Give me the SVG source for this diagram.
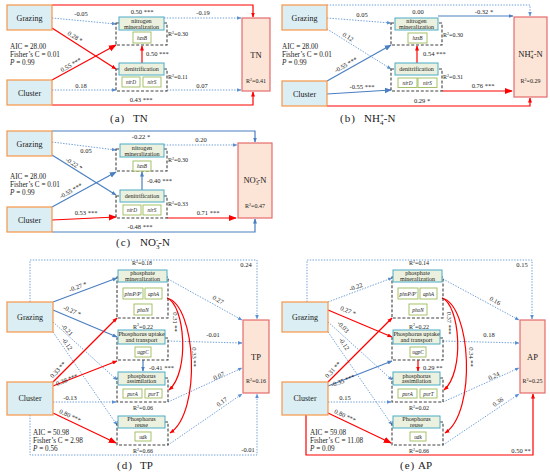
<svg xmlns="http://www.w3.org/2000/svg" width="550" height="476" viewBox="0 0 550 476">
<defs>
<style>
text{font-family:"Liberation Serif","Times New Roman",serif;fill:#1a1a1a}
.drv{fill:#dbeef4;stroke:#f79646;stroke-width:1.2}
.rsp{fill:#fce4d6;stroke:#e46c6c;stroke-width:1.2}
.hdr{fill:#ebf1de;stroke:#4bacc6;stroke-width:1}
.gen{fill:#fff;stroke:#9bbb59;stroke-width:0.9}
.grp{fill:none;stroke:#404040;stroke-width:1.1;stroke-dasharray:3 1.8}
.nm{font-size:8px;text-anchor:middle}
.rn{font-size:8.5px;text-anchor:middle}
.ht{font-size:6.1px;text-anchor:middle}
.gt{font-size:5.3px;font-style:italic;text-anchor:middle}
.r2{font-size:6px}
.lb{font-size:6.5px;text-anchor:middle}
.ls{font-size:6.5px}
.st{font-size:7.2px}
.cap{font-size:11px}
.red{fill:none;stroke:#ff0000;stroke-width:1.2}
.blu{fill:none;stroke:#4a7fc1;stroke-width:1.2}
.dot{fill:none;stroke:#6f9fd8;stroke-width:1;stroke-dasharray:1.4 1.4}
</style>
<marker id="mr" viewBox="0 0 10 10" refX="9" refY="5" markerWidth="5" markerHeight="5" markerUnits="userSpaceOnUse" orient="auto"><path d="M0,1 L10,5 L0,9z" fill="#ff0000"/></marker>
<marker id="mrL" viewBox="0 0 10 10" refX="9" refY="5" markerWidth="8" markerHeight="8" markerUnits="userSpaceOnUse" orient="auto"><path d="M0,1 L10,5 L0,9z" fill="#ff0000"/></marker>
<marker id="mb" viewBox="0 0 10 10" refX="9" refY="5" markerWidth="5" markerHeight="5" markerUnits="userSpaceOnUse" orient="auto"><path d="M0,1 L10,5 L0,9z" fill="#4a7fc1"/></marker>
<marker id="mbL" viewBox="0 0 10 10" refX="9" refY="5" markerWidth="7" markerHeight="7" markerUnits="userSpaceOnUse" orient="auto"><path d="M0,1 L10,5 L0,9z" fill="#4a7fc1"/></marker>
<marker id="md" viewBox="0 0 10 10" refX="9" refY="5" markerWidth="4.5" markerHeight="4.5" markerUnits="userSpaceOnUse" orient="auto"><path d="M0,1 L10,5 L0,9z" fill="#5b8fd4"/></marker>
</defs>
<rect width="550" height="476" fill="#fff"/>

<!-- ================= (a) TN ================= -->
<g id="a-connectors">
<path class="red" stroke-width="1.6" d="M52,5 H253 V17" marker-end="url(#mr)"/>
<path class="dot" d="M52,18 L116,24" marker-end="url(#md)"/>
<path class="red" d="M52,28 L116,69" marker-end="url(#mr)"/>
<path class="red" stroke-width="2.6" d="M52,80 L116,45" marker-end="url(#mrL)"/>
<path class="dot" d="M52,90 L116,90" marker-end="url(#md)"/>
<path class="red" stroke-width="1.6" d="M52,105 H253 V92" marker-end="url(#mr)"/>
<path class="red" stroke-width="1.6" d="M142,63 V46" marker-end="url(#mr)"/>
<path class="dot" d="M164,18 H241" marker-end="url(#md)"/>
<path class="dot" d="M167,90 H241" marker-end="url(#md)"/>
<text class="lb" x="142" y="13.5">0.50 ***</text>
<text class="lb" x="81" y="16">-0.05</text>
<text class="lb" x="75" y="39" transform="rotate(32 75 37)">0.28 *</text>
<text class="lb" x="71" y="67" transform="rotate(-29 71 65)">0.55 ***</text>
<text class="lb" x="81" y="88">0.18</text>
<text class="lb" x="141" y="102">0.43 ***</text>
<text class="ls" x="146" y="56">0.50 ***</text>
<text class="lb" x="203" y="14.5">-0.19</text>
<text class="lb" x="202" y="88">0.07</text>
</g>
<g id="a-grazing"><rect class="drv" x="7" y="5" width="45" height="25"/><text class="nm" x="29.5" y="20.5">Grazing</text></g>
<g id="a-cluster"><rect class="drv" x="7" y="80" width="45" height="25"/><text class="nm" x="29.5" y="95.5">Cluster</text></g>
<g id="a-nmin"><rect class="grp" x="116" y="23" width="51" height="22"/><rect class="hdr" x="119" y="17" width="45" height="13"/><text class="ht" x="141.5" y="22.5">nitrogen</text><text class="ht" x="141.5" y="28.5">mineralization</text><rect class="gen" x="133" y="32" width="18" height="11"/><text class="gt" x="142" y="39.5">hzsB</text><text class="r2" x="168" y="36">R<tspan font-size="4" dy="-2.3">2</tspan><tspan dy="2.3">=0.30</tspan></text></g>
<g id="a-denit"><rect class="grp" x="116" y="69" width="51" height="22"/><rect class="hdr" x="119" y="63" width="45" height="12"/><text class="ht" x="141.5" y="71">denitrification</text><rect class="gen" x="122" y="77" width="18" height="10"/><text class="gt" x="131" y="84">nirD</text><rect class="gen" x="143" y="77" width="18" height="10"/><text class="gt" x="152" y="84">nirS</text><text class="r2" x="168" y="79">R<tspan font-size="4" dy="-2.3">2</tspan><tspan dy="2.3">=0.11</tspan></text></g>
<g id="a-tn"><rect class="rsp" x="242" y="18" width="28" height="73"/><text class="rn" x="256" y="58">TN</text><text class="r2" x="256" y="83" text-anchor="middle">R<tspan font-size="4" dy="-2.3">2</tspan><tspan dy="2.3">=0.41</tspan></text></g>
<g id="a-stats"><text class="st" x="10" y="48.5">AIC = 28.00</text><text class="st" x="10" y="56.8">Fisher’s  C = 0.01</text><text class="st" x="10" y="65"><tspan font-style="italic">P</tspan> = 0.99</text></g>
<text class="cap" x="110" y="122" letter-spacing="1">(a)</text><text class="cap" x="133" y="122">TN</text>

<!-- ================= (b) NH4 ================= -->
<g id="b-connectors">
<path class="dot" d="M327,5 H530 V16" marker-end="url(#md)"/>
<path class="blu" stroke-width="1.6" d="M438,16 H513" marker-end="url(#mb)"/>
<path class="dot" d="M327,18 L391,23" marker-end="url(#md)"/>
<path class="dot" d="M327,29 L391,69" marker-end="url(#md)"/>
<path class="blu" stroke-width="2.4" d="M327,81 L391,45" marker-end="url(#mbL)"/>
<path class="blu" stroke-width="2.4" d="M327,94 L391,90" marker-end="url(#mbL)"/>
<path class="red" d="M327,106 H530 V98" marker-end="url(#mr)"/>
<path class="red" stroke-width="1.8" d="M417,63 V46" marker-end="url(#mr)"/>
<path class="red" stroke-width="3" d="M442,91 H512" marker-end="url(#mrL)"/>
<text class="lb" x="418" y="14">0.00</text>
<text class="lb" x="484" y="14">-0.32 *</text>
<text class="lb" x="362" y="17">0.05</text>
<text class="lb" x="348" y="39" transform="rotate(32 348 37)">0.12</text>
<text class="lb" x="346" y="67" transform="rotate(-29 346 65)">-0.55 ***</text>
<text class="lb" x="362" y="88.5">-0.55 ***</text>
<text class="lb" x="422" y="102.5">0.29 *</text>
<text class="ls" x="423" y="56">0.54 ***</text>
<text class="lb" x="483" y="88">0.76 ***</text>
</g>
<g id="b-grazing"><rect class="drv" x="282" y="5" width="45" height="25"/><text class="nm" x="304.5" y="20.5">Grazing</text></g>
<g id="b-cluster"><rect class="drv" x="282" y="81" width="45" height="25"/><text class="nm" x="304.5" y="96.5">Cluster</text></g>
<g id="b-nmin"><rect class="grp" x="391" y="23" width="51" height="22"/><rect class="hdr" x="395" y="18" width="43" height="12"/><text class="ht" x="416.5" y="23">nitrogen</text><text class="ht" x="416.5" y="28.8">mineralization</text><rect class="gen" x="408" y="33" width="19" height="10"/><text class="gt" x="417.5" y="40">hzsB</text><text class="r2" x="443" y="37">R<tspan font-size="4" dy="-2.3">2</tspan><tspan dy="2.3">=0.30</tspan></text></g>
<g id="b-denit"><rect class="grp" x="391" y="69" width="51" height="22"/><rect class="hdr" x="395" y="63" width="43" height="12"/><text class="ht" x="416.5" y="71">denitrification</text><rect class="gen" x="398" y="78" width="19" height="9.5"/><text class="gt" x="407.5" y="84.8">nirD</text><rect class="gen" x="418" y="78" width="19" height="9.5"/><text class="gt" x="427.5" y="84.8">nirS</text><text class="r2" x="443" y="79">R<tspan font-size="4" dy="-2.3">2</tspan><tspan dy="2.3">=0.31</tspan></text></g>
<g id="b-nh4"><rect class="rsp" x="514" y="17" width="33" height="80"/><text class="rn" x="530.5" y="57">NH<tspan font-size="5.5" dy="2">4</tspan><tspan font-size="5.5" dx="-2.8" dy="-5.5">+</tspan><tspan dy="3.5">-N</tspan></text><text class="r2" x="530.5" y="83" text-anchor="middle">R<tspan font-size="4" dy="-2.3">2</tspan><tspan dy="2.3">=0.29</tspan></text></g>
<g id="b-stats"><text class="st" x="282" y="48.5">AIC = 28.00</text><text class="st" x="282" y="56.8">Fisher’s  C = 0.01</text><text class="st" x="282" y="65"><tspan font-style="italic">P</tspan> = 0.99</text></g>
<text class="cap" x="340" y="122" letter-spacing="1">(b)</text><text class="cap" x="364" y="122">NH<tspan font-size="7" dy="2.5">4</tspan><tspan font-size="7" dx="-3.5" dy="-7">+</tspan><tspan dy="4.5">-N</tspan></text>

<!-- ================= (c) NO3 ================= -->
<g id="c-connectors">
<path class="blu" d="M52,131 H255 V142" marker-end="url(#mb)"/>
<path class="dot" d="M52,142 L116,150" marker-end="url(#md)"/>
<path class="dot" d="M164,145 H237" marker-end="url(#md)"/>
<path class="blu" d="M52,155 L116,195" marker-end="url(#mb)"/>
<path class="blu" stroke-width="2.4" d="M52,207 L116,172" marker-end="url(#mbL)"/>
<path class="red" stroke-width="2.6" d="M52,220 L116,217" marker-end="url(#mrL)"/>
<path class="blu" stroke-width="1.6" d="M52,232 H255 V219" marker-end="url(#mb)"/>
<path class="blu" stroke-width="1.6" d="M142,190 V172" marker-end="url(#mb)"/>
<path class="red" stroke-width="3" d="M167,218 H236" marker-end="url(#mrL)"/>
<text class="lb" x="141" y="138.5">-0.22 *</text>
<text class="lb" x="86" y="153">0.05</text>
<text class="lb" x="201" y="142">0.20</text>
<text class="lb" x="74" y="166" transform="rotate(32 74 164)">-0.22 *</text>
<text class="lb" x="71" y="193" transform="rotate(-29 71 191)">-0.55 ***</text>
<text class="lb" x="86" y="215">0.53 ***</text>
<text class="lb" x="140" y="229">-0.48 ***</text>
<text class="ls" x="147" y="183">-0.40 ***</text>
<text class="lb" x="208" y="215">0.71 ***</text>
</g>
<g id="c-grazing"><rect class="drv" x="7" y="131" width="45" height="25"/><text class="nm" x="29.5" y="146.5">Grazing</text></g>
<g id="c-cluster"><rect class="drv" x="7" y="207" width="45" height="25"/><text class="nm" x="29.5" y="222.5">Cluster</text></g>
<g id="c-nmin"><rect class="grp" x="116" y="149" width="51" height="22"/><rect class="hdr" x="120" y="144" width="44" height="13"/><text class="ht" x="142" y="149.5">nitrogen</text><text class="ht" x="142" y="155.5">mineralization</text><rect class="gen" x="133" y="161" width="18" height="10"/><text class="gt" x="142" y="168">hzsB</text><text class="r2" x="168" y="162">R<tspan font-size="4" dy="-2.3">2</tspan><tspan dy="2.3">=0.30</tspan></text></g>
<g id="c-denit"><rect class="grp" x="116" y="196" width="51" height="22"/><rect class="hdr" x="120" y="190" width="44" height="12"/><text class="ht" x="142" y="198">denitrification</text><rect class="gen" x="123" y="205" width="18" height="10"/><text class="gt" x="132" y="212">nirD</text><rect class="gen" x="143" y="205" width="18" height="10"/><text class="gt" x="152" y="212">nirS</text><text class="r2" x="168" y="206">R<tspan font-size="4" dy="-2.3">2</tspan><tspan dy="2.3">=0.33</tspan></text></g>
<g id="c-no3"><rect class="rsp" x="238" y="143" width="34" height="75"/><text class="rn" x="255" y="183">NO<tspan font-size="5.5" dy="2">3</tspan><tspan font-size="5.5" dx="-2.8" dy="-5.5">-</tspan><tspan dy="3.5">-N</tspan></text><text class="r2" x="255" y="208" text-anchor="middle">R<tspan font-size="4" dy="-2.3">2</tspan><tspan dy="2.3">=0.47</tspan></text></g>
<g id="c-stats"><text class="st" x="10" y="179">AIC = 28.00</text><text class="st" x="10" y="186.8">Fisher’s  C = 0.01</text><text class="st" x="10" y="194.5"><tspan font-style="italic">P</tspan> = 0.99</text></g>
<text class="cap" x="116" y="246" letter-spacing="1">(c)</text><text class="cap" x="140" y="246">NO<tspan font-size="7" dy="2.5">3</tspan><tspan font-size="7" dx="-3.5" dy="-7">-</tspan><tspan dy="4.5">-N</tspan></text>

<!-- ================= (d) TP ================= -->
<g id="d-connectors">
<path class="dot" d="M30,302 V260 H257 V319" marker-end="url(#md)"/>
<path class="dot" d="M30,415 V455 H257 V394" marker-end="url(#md)"/>
<path class="blu" d="M53,302 L117,278" marker-end="url(#mb)"/>
<path class="blu" d="M53,310 L117,337" marker-end="url(#mb)"/>
<path class="dot" d="M53,322 L117,380" marker-end="url(#md)"/>
<path class="dot" d="M53,332 L117,425" marker-end="url(#md)"/>
<path class="red" d="M53,382 L117,318" marker-end="url(#mr)"/>
<path class="red" stroke-width="1.6" d="M53,386 L117,361" marker-end="url(#mr)"/>
<path class="dot" d="M53,402 L116,402" marker-end="url(#md)"/>
<path class="red" stroke-width="2.8" d="M53,413 L116,443" marker-end="url(#mrL)"/>
<path class="blu" stroke-width="1.6" d="M143,360 V371" marker-end="url(#mb)"/>
<path class="dot" d="M168,279 L242,320" marker-end="url(#md)"/>
<path class="dot" d="M168,341 L242,343" marker-end="url(#md)"/>
<path class="dot" d="M168,402 L242,368" marker-end="url(#md)"/>
<path class="dot" d="M168,445 L242,394" marker-end="url(#md)"/>
<path class="red" stroke-width="1.3" d="M167,298 C185,305 190,372 169,390" marker-end="url(#mr)"/>
<path class="red" stroke-width="1.3" d="M167,298 C196,305 202,412 170,433" marker-end="url(#mr)"/>
<text class="lb" x="246" y="267">0.24</text>
<text class="lb" x="248" y="452">-0.01</text>
<text class="lb" x="78" y="289" transform="rotate(-20 78 287)">-0.27 *</text>
<text class="lb" x="72" y="313" transform="rotate(23 72 311)">-0.27 *</text>
<text class="lb" x="67" y="332" transform="rotate(45 67 330)">-0.21</text>
<text class="lb" x="67" y="346" transform="rotate(57 67 344)">-0.12</text>
<text class="lb" x="58" y="372" transform="rotate(-47 58 370)">0.33 **</text>
<text class="lb" x="67" y="382" transform="rotate(-21 67 380)">0.38 ***</text>
<text class="lb" x="70" y="400">-0.13</text>
<text class="lb" x="70" y="418" transform="rotate(25 70 416)">0.80 ***</text>
<text class="ls" x="149" y="370">-0.41 ***</text>
<text class="lb" x="218" y="302" transform="rotate(29 218 300)">0.27</text>
<text class="lb" x="213" y="337">-0.01</text>
<text class="lb" x="219" y="378" transform="rotate(-24 219 376)">0.07</text>
<text class="lb" x="222" y="404" transform="rotate(-35 222 402)">0.17</text>
<text class="lb" x="175" y="324" transform="rotate(90 175 322)">0.31 **</text>
<text class="lb" x="194" y="359" transform="rotate(90 194 357)">0.33 **</text>
</g>
<g id="d-grazing"><rect class="drv" x="7" y="302" width="46" height="30"/><text class="nm" x="30" y="319.5">Grazing</text></g>
<g id="d-cluster"><rect class="drv" x="7" y="382" width="46" height="33"/><text class="nm" x="30" y="401">Cluster</text></g>
<g id="d-pmin"><rect class="grp" x="117" y="277" width="51" height="41"/><rect class="hdr" x="118" y="270" width="49" height="12"/><text class="ht" x="142.5" y="275">phosphate</text><text class="ht" x="142.5" y="280.6">mineralization</text><rect class="gen" x="123" y="288" width="20" height="11"/><text class="gt" x="133" y="295.5">phnP/P'</text><rect class="gen" x="145" y="288" width="17" height="11"/><text class="gt" x="153.5" y="295.5">aphA</text><rect class="gen" x="134" y="304" width="18" height="11"/><text class="gt" x="143" y="311.5">phoN</text><text class="r2" x="132" y="265">R<tspan font-size="4" dy="-2.3">2</tspan><tspan dy="2.3">=0.18</tspan></text></g>
<g id="d-pupt"><rect class="grp" x="117" y="338" width="51" height="22"/><rect class="hdr" x="118" y="330" width="47" height="14"/><text class="ht" x="141.5" y="335.5" font-size="5.9">Phosphorus uptake</text><text class="ht" x="141.5" y="341.5" font-size="5.9">and transport</text><rect class="gen" x="135" y="347" width="16" height="10"/><text class="gt" x="143" y="354">ugpC</text><text class="r2" x="133" y="328.5">R<tspan font-size="4" dy="-2.3">2</tspan><tspan dy="2.3">=0.22</tspan></text></g>
<g id="d-pass"><rect class="grp" x="117" y="378" width="51" height="24"/><rect class="hdr" x="118" y="372" width="47" height="13"/><text class="ht" x="141.5" y="377.5">phosphorus</text><text class="ht" x="141.5" y="383.3">assimilation</text><rect class="gen" x="123" y="389" width="19" height="9"/><text class="gt" x="132.5" y="395.5">purA</text><rect class="gen" x="145" y="389" width="17" height="9"/><text class="gt" x="153.5" y="395.5">purT</text><text class="r2" x="133" y="410">R<tspan font-size="4" dy="-2.3">2</tspan><tspan dy="2.3">=0.06</tspan></text></g>
<g id="d-preu"><rect class="grp" x="117" y="422" width="51" height="23"/><rect class="hdr" x="118" y="416" width="47" height="12"/><text class="ht" x="141.5" y="421.2">Phosphorus</text><text class="ht" x="141.5" y="426.8">reuse</text><rect class="gen" x="135" y="432" width="16" height="9"/><text class="gt" x="143" y="438.5">udk</text><text class="r2" x="133" y="453">R<tspan font-size="4" dy="-2.3">2</tspan><tspan dy="2.3">=0.66</tspan></text></g>
<g id="d-tp"><rect class="rsp" x="243" y="320" width="26" height="73"/><text class="rn" x="256" y="360">TP</text><text class="r2" x="256" y="383" text-anchor="middle">R<tspan font-size="4" dy="-2.3">2</tspan><tspan dy="2.3">=0.16</tspan></text></g>
<g id="d-stats"><text class="st" x="33" y="434.5">AIC = 50.98</text><text class="st" x="33" y="442.5">Fisher’s  C = 2.98</text><text class="st" x="33" y="450.5"><tspan font-style="italic">P</tspan> = 0.56</text></g>
<text class="cap" x="117" y="469" letter-spacing="1">(d)</text><text class="cap" x="140" y="469">TP</text>

<!-- ================= (e) AP ================= -->
<g id="e-connectors">
<path class="dot" d="M307,302 V260 H532 V319" marker-end="url(#md)"/>
<path class="red" stroke-width="1.4" d="M306,415 V455 H533 V394" marker-end="url(#mr)"/>
<path class="dot" d="M328,302 L392,278" marker-end="url(#md)"/>
<path class="red" d="M328,310 L392,337" marker-end="url(#mr)"/>
<path class="dot" d="M328,322 L392,380" marker-end="url(#md)"/>
<path class="dot" d="M328,332 L392,425" marker-end="url(#md)"/>
<path class="red" d="M328,382 L392,318" marker-end="url(#mr)"/>
<path class="blu" stroke-width="1.6" d="M328,386 L392,361" marker-end="url(#mb)"/>
<path class="dot" d="M328,402 L391,402" marker-end="url(#md)"/>
<path class="red" stroke-width="2.8" d="M328,413 L391,443" marker-end="url(#mrL)"/>
<path class="red" stroke-width="1.4" d="M418,360 V371" marker-end="url(#mr)"/>
<path class="dot" d="M443,279 L519,320" marker-end="url(#md)"/>
<path class="dot" d="M443,341 L519,343" marker-end="url(#md)"/>
<path class="dot" d="M443,402 L519,368" marker-end="url(#md)"/>
<path class="dot" d="M443,445 L519,394" marker-end="url(#md)"/>
<path class="red" stroke-width="1.3" d="M442,298 C460,305 465,372 444,390" marker-end="url(#mr)"/>
<path class="red" stroke-width="1.3" d="M442,298 C471,305 477,412 445,433" marker-end="url(#mr)"/>
<text class="lb" x="522" y="267">0.15</text>
<text class="lb" x="521" y="453">0.50 **</text>
<text class="lb" x="356" y="289" transform="rotate(-20 356 287)">-0.22</text>
<text class="lb" x="348" y="313" transform="rotate(23 348 311)">0.27 *</text>
<text class="lb" x="343" y="329" transform="rotate(45 343 327)">-0.03</text>
<text class="lb" x="344" y="346" transform="rotate(57 344 344)">-0.12</text>
<text class="lb" x="333" y="372" transform="rotate(-47 333 370)">0.31 **</text>
<text class="lb" x="343" y="383" transform="rotate(-21 343 381)">-0.35 ***</text>
<text class="lb" x="345" y="400">0.15</text>
<text class="lb" x="345" y="418" transform="rotate(25 345 416)">0.80 ***</text>
<text class="ls" x="423" y="370">0.29 **</text>
<text class="lb" x="495" y="303" transform="rotate(29 495 301)">0.16</text>
<text class="lb" x="489" y="337">0.18</text>
<text class="lb" x="494" y="378" transform="rotate(-24 494 376)">0.24</text>
<text class="lb" x="498" y="404" transform="rotate(-35 498 402)">0.36</text>
<text class="lb" x="449" y="325" transform="rotate(90 449 323)">0.37 ***</text>
<text class="lb" x="471" y="359" transform="rotate(90 471 357)">0.34 **</text>
</g>
<g id="e-grazing"><rect class="drv" x="282" y="302" width="46" height="30"/><text class="nm" x="305" y="319.5">Grazing</text></g>
<g id="e-cluster"><rect class="drv" x="282" y="382" width="46" height="33"/><text class="nm" x="305" y="401">Cluster</text></g>
<g id="e-pmin"><rect class="grp" x="392" y="277" width="51" height="41"/><rect class="hdr" x="393" y="270" width="49" height="12"/><text class="ht" x="417.5" y="275">phosphate</text><text class="ht" x="417.5" y="280.6">mineralization</text><rect class="gen" x="398" y="288" width="20" height="11"/><text class="gt" x="408" y="295.5">phnP/P'</text><rect class="gen" x="420" y="288" width="17" height="11"/><text class="gt" x="428.5" y="295.5">aphA</text><rect class="gen" x="409" y="304" width="18" height="11"/><text class="gt" x="418" y="311.5">phoN</text><text class="r2" x="409" y="265">R<tspan font-size="4" dy="-2.3">2</tspan><tspan dy="2.3">=0.14</tspan></text></g>
<g id="e-pupt"><rect class="grp" x="392" y="338" width="51" height="22"/><rect class="hdr" x="393" y="330" width="47" height="14"/><text class="ht" x="416.5" y="335.5" font-size="5.9">Phosphorus uptake</text><text class="ht" x="416.5" y="341.5" font-size="5.9">and transport</text><rect class="gen" x="410" y="347" width="16" height="10"/><text class="gt" x="418" y="354">ugpC</text><text class="r2" x="409" y="328.5">R<tspan font-size="4" dy="-2.3">2</tspan><tspan dy="2.3">=0.22</tspan></text></g>
<g id="e-pass"><rect class="grp" x="392" y="378" width="51" height="24"/><rect class="hdr" x="393" y="372" width="47" height="13"/><text class="ht" x="416.5" y="377.5">phosphorus</text><text class="ht" x="416.5" y="383.3">assimilation</text><rect class="gen" x="398" y="389" width="19" height="9"/><text class="gt" x="407.5" y="395.5">purA</text><rect class="gen" x="420" y="389" width="17" height="9"/><text class="gt" x="428.5" y="395.5">purT</text><text class="r2" x="409" y="410">R<tspan font-size="4" dy="-2.3">2</tspan><tspan dy="2.3">=0.02</tspan></text></g>
<g id="e-preu"><rect class="grp" x="392" y="422" width="51" height="23"/><rect class="hdr" x="393" y="416" width="47" height="12"/><text class="ht" x="416.5" y="421.2">Phosphorus</text><text class="ht" x="416.5" y="426.8">reuse</text><rect class="gen" x="410" y="432" width="16" height="9"/><text class="gt" x="418" y="438.5">udk</text><text class="r2" x="409" y="453">R<tspan font-size="4" dy="-2.3">2</tspan><tspan dy="2.3">=0.66</tspan></text></g>
<g id="e-ap"><rect class="rsp" x="520" y="320" width="25" height="73"/><text class="rn" x="532.5" y="360">AP</text><text class="r2" x="532.5" y="383" text-anchor="middle">R<tspan font-size="4" dy="-2.3">2</tspan><tspan dy="2.3">=0.25</tspan></text></g>
<g id="e-stats"><text class="st" x="310" y="434.5">AIC = 59.08</text><text class="st" x="310" y="442.5">Fisher’s  C = 11.08</text><text class="st" x="310" y="450.5"><tspan font-style="italic">P</tspan> = 0.09</text></g>
<text class="cap" x="400" y="469" letter-spacing="1">(e)</text><text class="cap" x="418" y="469">AP</text>
</svg>
